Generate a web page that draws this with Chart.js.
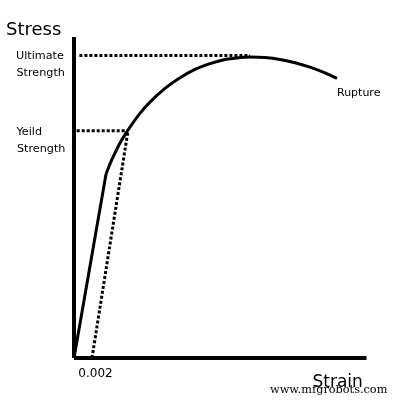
<!DOCTYPE html>
<html>
<head>
  <title>Stress Strain Curve</title>
  <style>
    body { margin: 0; background: #fff; }
    #wrap { width: 400px; height: 400px; }
  </style>
</head>
<body>
  <div id="wrap"><canvas id="stressChart" width="400" height="400"></canvas></div>

  <script src="https://cdn.jsdelivr.net/npm/chart.js"></script>
  <script>
    // strain (x) and stress (y, arbitrary units 0-100)
    const elasticStrain = [0, 0.00356];
    const elasticStress = [0, 57.3];

    const plasticStrain = [0.00356, 0.0040, 0.00456, 0.00511, 0.0060, 0.00733, 0.00844, 0.01011, 0.01178, 0.01344, 0.01511, 0.01678, 0.01844, 0.01956, 0.02122, 0.02289, 0.02456, 0.02622, 0.02789, 0.02922];
    const plasticStress = [57.3, 60.5, 63.9, 67.0, 71.0, 76.2, 79.7, 84.0, 87.3, 89.9, 91.7, 93.0, 93.6, 93.8, 93.6, 93.0, 92.0, 90.6, 88.8, 87.1];

    const offsetStrain = 0.002;
    const yieldStrain = 0.0060;
    const yieldStress = 70.8;
    const ultimateStrain = 0.01956;
    const ultimateStress = 94.2;

    const strainMax = 0.0325;
    const stressMax = 100;

    const toPoints = (xs, ys) => xs.map((x, i) => ({ x: x, y: ys[i] }));

    const solid = { borderColor: '#000', borderWidth: 3, pointRadius: 0, showLine: true, fill: false };
    const dotted = { borderColor: '#000', borderWidth: 3, pointRadius: 0, showLine: true, fill: false, borderDash: [3, 2], borderCapStyle: 'butt' };

    // labels drawn next to the curve
    const labelPlugin = {
      id: 'labels',
      afterDraw(chart) {
        const ctx = chart.ctx;
        const xs = chart.scales.x;
        const ys = chart.scales.y;
        ctx.save();
        ctx.fillStyle = '#000';
        ctx.textAlign = 'left';
        ctx.textBaseline = 'alphabetic';

        ctx.font = '18px "DejaVu Sans"';
        ctx.fillText('Stress', 6, 35);

        ctx.font = '11.2px "DejaVu Sans"';
        const uy = ys.getPixelForValue(ultimateStress);
        ctx.fillText('Ultimate', 16, uy + 3.5);
        ctx.fillText('Strength', 16.5, uy + 20.5);

        const yy = ys.getPixelForValue(yieldStress);
        ctx.fillText('Yeild', 16.5, yy + 4.5);
        ctx.fillText('Strength', 17, yy + 21);

        const last = plasticStrain.length - 1;
        ctx.font = '11px "DejaVu Sans"';
        ctx.fillText('Rupture', xs.getPixelForValue(plasticStrain[last]), ys.getPixelForValue(plasticStress[last]) + 17.5);

        ctx.font = '12px "DejaVu Sans"';
        ctx.fillText('0.002', xs.getPixelForValue(offsetStrain) - 13.7, 376.5);

        ctx.font = '17px "DejaVu Sans"';
        ctx.fillText('Strain', 312.5, 387);

        ctx.font = '11.3px "DejaVu Serif"';
        ctx.fillText('www.mfgrobots.com', 270, 393);
        ctx.restore();
      }
    };

    new Chart(document.getElementById('stressChart'), {
      type: 'scatter',
      data: {
        datasets: [
          { ...solid, data: toPoints(elasticStrain, elasticStress) },
          { ...solid, data: toPoints(plasticStrain, plasticStress), cubicInterpolationMode: 'monotone' },
          { ...dotted, data: [{ x: offsetStrain, y: 0 }, { x: yieldStrain, y: yieldStress }] },
          { ...dotted, data: [{ x: 0.0003, y: yieldStress }, { x: yieldStrain, y: yieldStress }] },
          { ...dotted, data: [{ x: 0.0006, y: ultimateStress }, { x: ultimateStrain, y: ultimateStress }] },
          // axes
          { ...solid, borderWidth: 4, clip: false, data: [{ x: 0, y: 0 }, { x: 0, y: stressMax }] },
          { ...solid, borderWidth: 4, clip: false, data: [{ x: 0, y: 0 }, { x: strainMax, y: 0 }] }
        ]
      },
      options: {
        responsive: false,
        animation: false,
        devicePixelRatio: 1,
        layout: { padding: { left: 74, top: 37, right: 34, bottom: 42 } },
        plugins: { legend: { display: false }, tooltip: { enabled: false } },
        scales: {
          x: { type: 'linear', display: false, min: 0, max: 0.032444 },
          y: { type: 'linear', display: false, min: 0, max: stressMax }
        }
      },
      plugins: [labelPlugin]
    });
  </script>
</body>
</html>
